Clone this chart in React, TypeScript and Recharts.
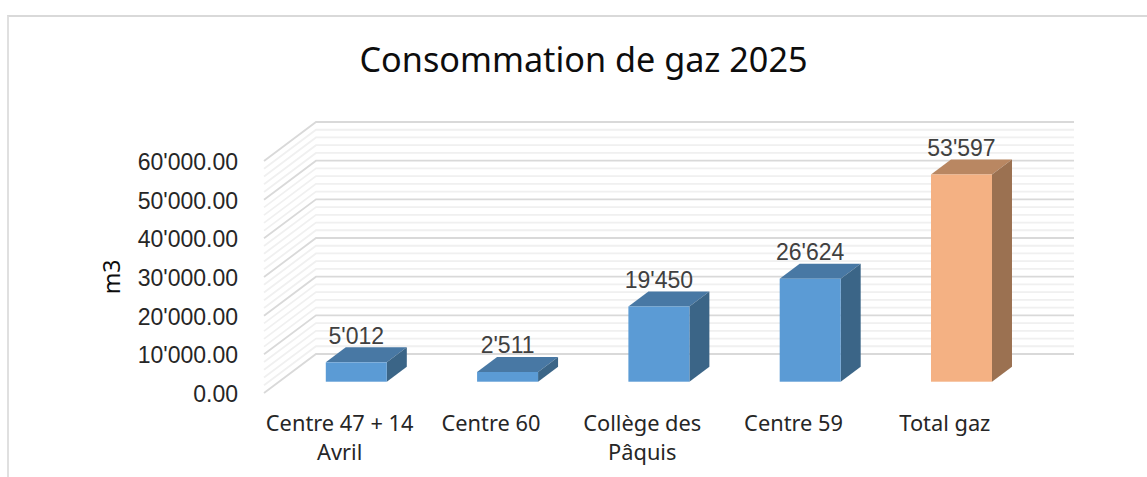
import React from 'react';
import { BarChart, Bar, XAxis, YAxis, CartesianGrid, LabelList } from 'recharts';

const categories = ['Centre 47 + 14\nAvril', 'Centre 60', 'Collège des\nPâquis', 'Centre 59', 'Total gaz'];
const consumption = [5012, 2511, 19450, 26624, 53597];
const valueLabels = ["5'012", "2'511", "19'450", "26'624", "53'597"];
const majorTicks = [0, 10000, 20000, 30000, 40000, 50000, 60000];
const minorTicks = [
  2000, 4000, 6000, 8000, 12000, 14000, 16000, 18000, 22000, 24000, 26000, 28000,
  32000, 34000, 36000, 38000, 42000, 44000, 46000, 48000, 52000, 54000, 56000, 58000,
];

const chartData = categories.map((name, i) => ({ name, value: consumption[i], label: valueLabels[i] }));

const WIDTH = 1147;
const HEIGHT = 477;
const TEXT_FONT = 'Noto Sans';
const NUMBER_FONT = 'Liberation Sans';

// 3D look: wall depth and box depth, in pixels
const WALL_DX = 52;
const WALL_DY = 39;
const WALL_EXTRA = 1.5;
const BOX_DX = 20;
const BOX_DY = 15;
const BAR_SHIFT_X = 16.4;
const BAR_SHIFT_Y = 11.3;

const BLUE = { front: '#5b9bd5', top: '#4878a4', side: '#3b6587' };
const ORANGE = { front: '#f4b183', top: '#b98762', side: '#9b7151' };

const formatTick = (v: number) => {
  const s = String(v);
  const body = s.length > 3 ? s.slice(0, -3) + "'" + s.slice(-3) : s;
  return body + '.00';
};

const wallLine = (color: string) => (props: any) => {
  const { x1, y1, x2 } = props;
  const backY = y1 - WALL_DY;
  return (
    <polyline
      key={`${color}-${y1}`}
      points={`${x1},${y1} ${x1 + WALL_DX},${backY} ${x2 + WALL_DX + WALL_EXTRA},${backY}`}
      fill="none"
      stroke={color}
      strokeWidth={1.8}
    />
  );
};

const Box = (props: any) => {
  const { width, height, payload } = props;
  const x = props.x + BAR_SHIFT_X;
  const y = props.y - BAR_SHIFT_Y;
  const c = payload.name === 'Total gaz' ? ORANGE : BLUE;
  return (
    <g>
      <polygon
        points={`${x},${y} ${x + BOX_DX},${y - BOX_DY} ${x + width + BOX_DX},${y - BOX_DY} ${x + width},${y}`}
        fill={c.top}
      />
      <polygon
        points={`${x + width},${y} ${x + width + BOX_DX},${y - BOX_DY} ${x + width + BOX_DX},${y + height - BOX_DY} ${x + width},${y + height}`}
        fill={c.side}
      />
      <rect x={x} y={y} width={width} height={height} fill={c.front} />
    </g>
  );
};

const CategoryTick = (props: any) => {
  const { x, y, payload } = props;
  const lines = String(payload.value).split('\n');
  return (
    <text x={x} y={y} textAnchor="middle" fontSize={21.8} fill="#262626" fontFamily={TEXT_FONT}>
      {lines.map((line, i) => (
        <tspan key={i} x={x} y={y + 29.5 + i * 29}>
          {line}
        </tspan>
      ))}
    </text>
  );
};

const ValueTick = (props: any) => {
  const { x, y, payload } = props;
  return (
    <text x={x} y={y + 9} textAnchor="end" fontSize={23} fill="#262626" fontFamily={NUMBER_FONT}>
      {formatTick(payload.value)}
    </text>
  );
};

const ValueLabel = (props: any) => {
  const { x, y, width, value } = props;
  return (
    <text
      x={x + width / 2 + BAR_SHIFT_X}
      y={y - 30}
      textAnchor="middle"
      fontSize={23}
      fill="#404040"
      fontFamily={NUMBER_FONT}
    >
      {value}
    </text>
  );
};

export default function App() {
  return (
    <div
      style={{
        position: 'fixed',
        left: 0,
        top: 0,
        width: WIDTH,
        height: HEIGHT,
        overflow: 'hidden',
        background: '#fff',
      }}
    >
      <div
        style={{
          position: 'absolute',
          left: 7,
          top: 15,
          width: WIDTH,
          height: HEIGHT,
          borderTop: '2px solid #d9d9d9',
          borderLeft: '2px solid #e0e0e0',
        }}
      />
      <BarChart
        width={WIDTH}
        height={HEIGHT}
        data={chartData}
        margin={{ top: 161, right: 126.5, bottom: 0, left: 134 }}
        barCategoryGap="30%"
      >
        <CartesianGrid vertical={false} horizontalValues={minorTicks} horizontal={wallLine('#f0f0f0')} />
        <CartesianGrid vertical={false} horizontalValues={majorTicks} horizontal={wallLine('#d9d9d9')} />
        <XAxis dataKey="name" height={84} interval={0} axisLine={false} tickLine={false} tick={<CategoryTick />} />
        <YAxis
          width={130}
          domain={[0, 60000]}
          ticks={majorTicks}
          interval={0}
          axisLine={false}
          tickLine={false}
          tickSize={0}
          tickMargin={26}
          tick={<ValueTick />}
        />
        <Bar dataKey="value" isAnimationActive={false} shape={<Box />}>
          <LabelList dataKey="label" content={<ValueLabel />} />
        </Bar>
        <text x={583.5} y={72} textAnchor="middle" fontSize={34.2} fill="#0d0d0d" fontFamily={TEXT_FONT}>
          Consommation de gaz 2025
        </text>
        <text
          x={120}
          y={277}
          textAnchor="middle"
          fontSize={23}
          fill="#0d0d0d"
          fontFamily={TEXT_FONT}
          transform="rotate(-90 120 277)"
        >
          m3
        </text>
      </BarChart>
    </div>
  );
}
